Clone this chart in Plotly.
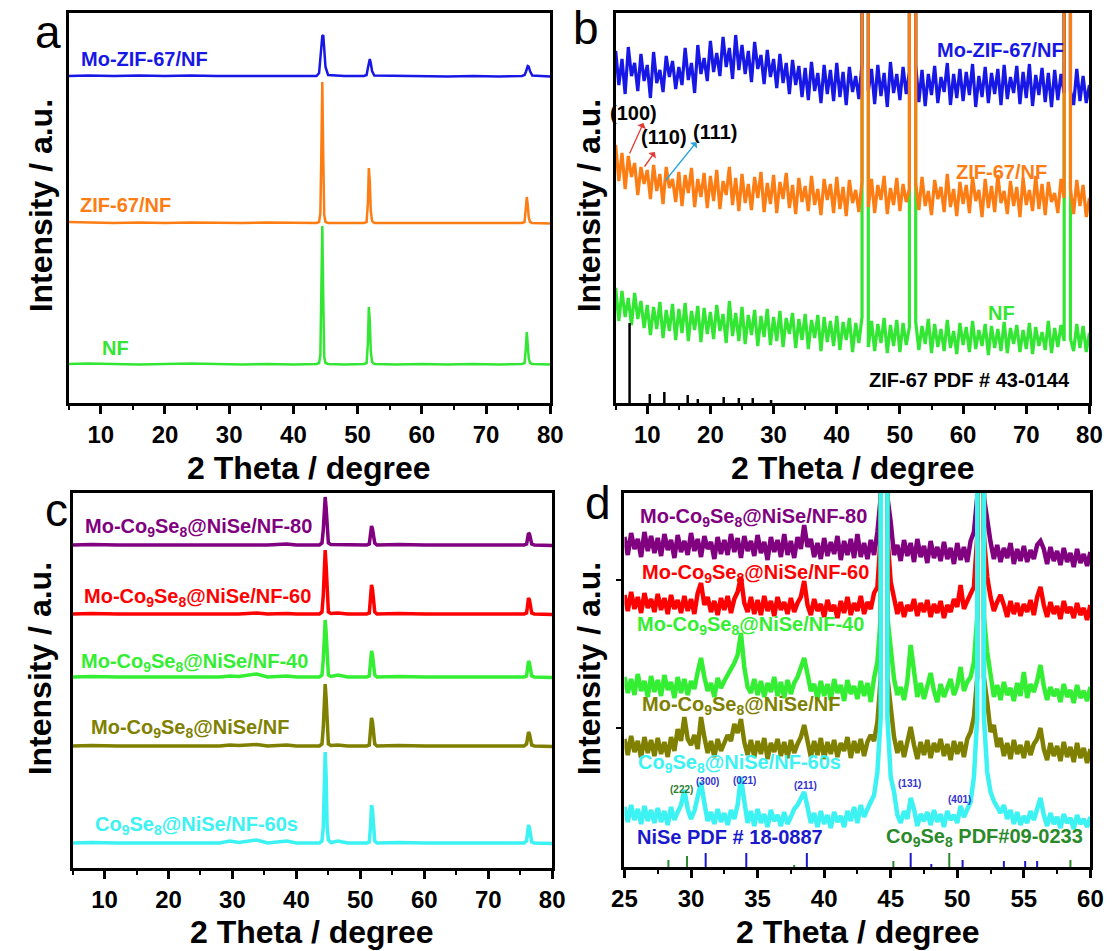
import numpy as np
import plotly.graph_objects as go

FONT = "Liberation Sans"

# ---------------- panel a : full XRD patterns ----------------
two_theta_a = [5, 8, 12, 16, 20, 24, 28, 32, 36, 40, 43.6, 44.0, 44.2, 44.35, 44.5, 44.65,
               44.8, 45.0, 45.4, 48, 51.0, 51.4, 51.6, 51.75, 51.9, 52.05, 52.25, 52.6, 56, 60,
               64, 68, 72, 75.6, 76.0, 76.2, 76.35, 76.5, 76.65, 76.85, 77.2, 80]
a_nf = [39, 39.5, 39, 38.5, 39, 39.5, 39, 38.5, 39, 38.5, 39, 40, 48, 110, 177, 105,
        46, 40, 39, 38.5, 39, 40, 60, 96, 82, 52, 41, 39, 38.5, 39,
        38.5, 39, 38.5, 39, 40, 55, 71, 58, 45, 40, 39, 38.5]
a_zif = [181, 180.5, 180, 180.5, 180, 180.5, 180, 180, 180.5, 180, 180, 181, 190, 250, 321, 245,
         188, 181, 180, 180, 180, 181, 200, 235, 222, 192, 182, 180, 180, 180.5,
         180, 180, 180, 180, 181, 195, 206, 198, 186, 181, 180, 179.5]
a_mozif = [327, 327.5, 327, 327.5, 327, 327.5, 327, 327, 327.5, 327, 327, 330, 342, 358, 367, 368,
           356, 336, 328, 327, 327, 328, 335, 342, 344, 340, 332, 327.5, 327, 327,
           326.5, 327, 326.5, 327, 328, 331, 335, 337, 336.5, 332, 327.5, 326.5]

# ---------------- panel b : magnified view (0.5 degree steps) ----------------
two_theta_b = np.linspace(5, 80, 151)
b_mozif = [352, 318, 344, 309, 356, 327, 340, 312, 349, 322,
           338, 305, 351, 320, 333, 311, 347, 326, 342, 314,
           336, 318, 355, 323, 340, 310, 358, 329, 345, 322,
           362, 331, 350, 327, 366, 336, 355, 324, 368, 333,
           358, 329, 352, 321, 361, 334, 348, 319, 353, 326,
           344, 315, 349, 320, 340, 309, 343, 318, 337, 306,
           335, 303, 341, 312, 330, 300, 338, 309, 333, 302,
           340, 306, 331, 298, 336, 311, 327, 304, 339, 30000,
           312, 334, 299, 338, 307, 330, 296, 341, 310, 329,
           303, 336, 309, 331, 30000, 338, 301, 333, 297, 329,
           308, 337, 300, 326, 311, 340, 298, 329, 305, 334,
           302, 331, 308, 339, 296, 327, 306, 336, 300, 330,
           309, 334, 298, 338, 304, 326, 310, 337, 299, 331,
           305, 339, 297, 328, 308, 335, 301, 330, 296, 333,
           303, 329, 310, 30000, 312, 298, 334, 302, 327, 300,
           318]
b_zif = [258, 222, 250, 214, 247, 226, 240, 208, 236, 219,
         233, 204, 238, 212, 229, 199, 236, 215, 224, 201,
         231, 197, 228, 210, 235, 196, 224, 206, 230, 195,
         227, 202, 233, 194, 222, 208, 236, 198, 225, 192,
         229, 200, 219, 193, 226, 205, 231, 191, 220, 199,
         228, 190, 221, 204, 230, 195, 218, 189, 225, 201,
         217, 192, 227, 198, 214, 188, 224, 203, 219, 190,
         226, 194, 216, 187, 223, 200, 213, 191, 222, 30000,
         196, 224, 190, 218, 203, 227, 189, 215, 198, 225,
         192, 219, 201, 214, 30000, 220, 193, 226, 197, 212,
         188, 223, 204, 216, 191, 229, 196, 214, 187, 221,
         199, 218, 190, 226, 202, 213, 186, 224, 195, 217,
         191, 228, 200, 212, 189, 222, 197, 216, 186, 225,
         198, 213, 192, 227, 194, 219, 188, 221, 201, 210,
         190, 224, 205, 30000, 214, 189, 223, 197, 218, 186,
         205]
b_nf = [115, 82, 112, 86, 105, 78, 110, 84, 102, 75,
        98, 68, 96, 74, 101, 65, 93, 72, 99, 63,
        94, 70, 100, 62, 92, 73, 97, 61, 95, 69,
        91, 64, 98, 72, 89, 60, 102, 67, 90, 62,
        96, 59, 88, 68, 93, 57, 87, 66, 94, 58,
        86, 62, 92, 56, 85, 69, 90, 55, 84, 63,
        89, 54, 83, 65, 88, 52, 86, 61, 82, 57,
        87, 53, 81, 63, 85, 51, 80, 60, 86, 30000,
        56, 82, 52, 79, 60, 85, 50, 78, 57, 83,
        51, 80, 58, 76, 30000, 81, 53, 77, 59, 84,
        50, 79, 56, 74, 52, 83, 55, 72, 49, 80,
        58, 76, 51, 82, 54, 73, 57, 79, 48, 77,
        55, 74, 52, 81, 50, 75, 59, 78, 51, 73,
        54, 80, 49, 76, 57, 71, 53, 82, 50, 75,
        56, 78, 62, 30000, 64, 52, 79, 55, 77, 51,
        70]
zif67_pdf_pos = [7.2, 10.4, 12.7, 16.4, 18.0, 22.1, 24.5, 26.7, 29.6]
zif67_pdf_int = [80, 9, 11, 8, 4, 6, 5, 5, 3]

# ---------------- panel c : selenides, full range ----------------
two_theta_c = [5, 8, 12, 16, 20, 24, 28, 29.6, 31, 33.8, 35.5, 38.5, 40, 43.6, 44.0, 44.2,
               44.35, 44.5, 44.65, 44.8, 45.0, 45.4, 46.5, 48, 51.0, 51.4, 51.6, 51.75, 51.9,
               52.05, 52.25, 52.6, 56, 60, 64, 68, 72, 75.6, 76.0, 76.15, 76.3, 76.45, 76.6,
               76.8, 77.2, 80]
c_60s = [25, 25.5, 25, 25, 25.5, 25, 25, 27, 25.5, 28, 25, 27, 25, 25, 27, 40,
         90, 116, 92, 42, 28, 25.5, 27, 25, 25, 26, 42, 63, 58,
         38, 27, 25, 25.5, 25, 25, 25, 25, 25, 27, 37, 43, 40, 31,
         26, 25, 24.5]
c_mo = [122, 122.5, 122, 122, 122.5, 122, 122, 123, 122.5, 123.5, 122, 123, 122, 122, 124, 140,
        172, 184, 170, 138, 124, 122.5, 123, 122, 122, 123, 138, 150, 146,
        132, 124, 122, 122.5, 122, 122, 122, 122, 122, 124, 132, 136, 134, 127,
        123, 122, 121.5]
c_40 = [191, 191.5, 191, 191, 191.5, 191, 191, 192, 191.5, 194, 191, 192, 191, 191, 193, 208,
        237, 248, 236, 206, 193, 191.5, 193, 191, 191, 192, 206, 217, 213,
        201, 193, 191, 191.5, 191, 191, 191, 191, 191, 192, 201, 207, 205, 197,
        192, 191, 190.5]
c_60 = [254, 254.5, 254, 254, 254.5, 254, 254, 254.5, 254, 255, 254, 254.5, 254, 254, 256, 272,
        305, 318, 303, 270, 256, 254.5, 255, 254, 254, 255, 272, 283, 279,
        265, 256, 254, 254.5, 254, 254, 254, 254, 254, 255, 265, 270, 268, 261,
        255, 254, 253.5]
c_80 = [323, 323.5, 323, 323, 323.5, 323, 323, 323.5, 323, 323.5, 323, 324, 323, 323, 325, 338,
        362, 371, 360, 337, 325, 323.5, 323.5, 323, 323, 324, 334, 342, 339,
        331, 325, 323, 323.5, 323, 323, 323, 323, 323, 324, 331, 335, 334, 329,
        324, 323, 322.5]

# ---------------- panel d : selenides, 25-60 degree (0.25 degree steps) ----------------
two_theta_d = np.linspace(25, 60, 141)
d_80 = [330, 312, 334, 318, 328, 310, 335, 316, 331, 314,
        329, 311, 333, 317, 327, 309, 332, 315, 326, 312,
        334, 316, 328, 310, 331, 318, 325, 308, 330, 313,
        327, 312, 333, 315, 329, 309, 331, 316, 326, 311,
        332, 314, 325, 307, 330, 315, 327, 310, 333, 312,
        326, 309, 330, 318, 342, 320, 328, 310, 324, 308,
        329, 311, 325, 313, 331, 307, 326, 312, 328, 309,
        333, 310, 324, 308, 327, 312, 335, 370, 30000, 370,
        345, 312, 322, 306, 327, 311, 324, 305, 328, 310,
        321, 304, 326, 309, 320, 306, 325, 308, 319, 303,
        324, 307, 320, 305, 326, 335, 370, 30000, 370, 345,
        325, 308, 322, 305, 319, 309, 324, 303, 318, 306,
        321, 305, 317, 308, 322, 326, 318, 303, 320, 306,
        316, 302, 319, 305, 314, 300, 318, 304, 313, 301,
        315]
d_60 = [272, 256, 275, 258, 270, 254, 274, 259, 268, 255,
        273, 257, 269, 253, 272, 258, 267, 254, 271, 256,
        268, 253, 274, 284, 262, 270, 255, 266, 252, 269,
        257, 271, 254, 268, 275, 290, 264, 255, 270, 253,
        267, 252, 271, 256, 266, 251, 270, 257, 265, 253,
        269, 255, 264, 270, 286, 262, 252, 268, 256, 263,
        250, 267, 256, 262, 249, 266, 254, 270, 252, 264,
        256, 271, 253, 265, 258, 274, 280, 330, 30000, 330,
        285, 268, 253, 265, 250, 262, 256, 268, 251, 264,
        255, 267, 250, 263, 254, 266, 249, 262, 255, 268,
        260, 282, 258, 266, 272, 280, 330, 30000, 330, 290,
        270, 256, 265, 272, 262, 250, 266, 253, 264, 251,
        263, 255, 267, 252, 270, 280, 262, 250, 265, 253,
        261, 248, 266, 254, 260, 249, 264, 252, 259, 247,
        262]
d_40 = [190, 174, 188, 172, 193, 176, 186, 170, 191, 175,
        187, 171, 192, 177, 185, 169, 190, 174, 188, 172,
        186, 178, 195, 209, 190, 176, 184, 170, 189, 179,
        186, 192, 196, 204, 212, 234, 200, 180, 174, 188,
        172, 186, 170, 184, 175, 190, 171, 185, 169, 187,
        173, 184, 190, 200, 209, 193, 176, 183, 168, 186,
        171, 183, 167, 188, 174, 182, 166, 187, 173, 181,
        168, 186, 171, 184, 165, 189, 205, 250, 30000, 250,
        215, 188, 172, 180, 167, 186, 222, 195, 170, 184,
        168, 181, 194, 176, 165, 183, 170, 179, 188, 172,
        181, 200, 176, 185, 190, 205, 250, 30000, 250, 215,
        188, 170, 182, 167, 185, 172, 179, 166, 184, 171,
        195, 169, 183, 175, 186, 202, 181, 167, 180, 171,
        178, 165, 183, 170, 177, 164, 182, 169, 176, 166,
        180]
d_mo = [128, 112, 131, 115, 126, 109, 130, 114, 127, 111,
        129, 113, 125, 110, 130, 116, 138, 126, 150, 128,
        122, 132, 118, 150, 130, 114, 126, 110, 128, 116,
        124, 132, 126, 143, 134, 148, 125, 112, 127, 110,
        126, 113, 129, 108, 124, 115, 128, 111, 125, 109,
        127, 114, 123, 130, 142, 124, 110, 126, 112, 129,
        108, 125, 113, 127, 110, 124, 116, 130, 109, 126,
        114, 128, 111, 125, 132, 126, 145, 190, 30000, 190,
        160, 130, 114, 126, 110, 124, 140, 122, 108, 125,
        112, 127, 109, 124, 115, 128, 111, 123, 107, 126,
        113, 125, 110, 128, 135, 150, 190, 30000, 190, 165,
        135, 142, 120, 129, 111, 124, 108, 127, 113, 122,
        109, 126, 112, 123, 128, 139, 118, 107, 124, 111,
        121, 106, 125, 110, 120, 105, 124, 109, 119, 104,
        118]
d_60s = [60, 45, 62, 47, 58, 43, 61, 46, 57, 44,
         59, 45, 56, 42, 60, 47, 55, 62, 77, 58,
         48, 56, 70, 85, 64, 46, 55, 43, 58, 45,
         54, 42, 57, 48, 62, 90, 66, 44, 56, 41,
         58, 44, 53, 40, 57, 46, 52, 41, 55, 43,
         50, 58, 62, 68, 75, 60, 44, 54, 40, 56,
         43, 52, 39, 55, 45, 51, 40, 56, 46, 60,
         44, 62, 50, 58, 66, 72, 95, 150, 30000, 150,
         90, 75, 52, 44, 56, 48, 69, 58, 41, 53,
         46, 55, 42, 57, 45, 53, 40, 56, 47, 52,
         44, 61, 50, 57, 65, 90, 150, 30000, 150, 95,
         75, 66, 60, 54, 62, 48, 57, 43, 55, 42,
         51, 44, 56, 47, 58, 69, 52, 41, 54, 43,
         50, 39, 53, 44, 49, 38, 52, 43, 48, 40,
         50]
co9se8_pdf_pos = [28.3, 29.7, 37.75, 45.2, 49.4, 58.5]
co9se8_pdf_int = [7, 11, 2, 6, 14, 7]
nise_pdf_pos = [31.1, 34.15, 38.7, 46.5, 48.05, 50.4, 53.5, 55.1, 56.0]
nise_pdf_int = [14, 14, 14, 14, 3, 7, 6, 6, 6]
hkl_labels = ["(222)", "(300)", "(021)", "(211)", "(131)", "(401)"]
hkl_pos = [29.25, 31.25, 34.0, 38.6, 46.4, 50.2]
hkl_height = [78, 86, 87, 82, 84, 68]
hkl_colors = ["#2e7d32", "#3333cc", "#3333cc", "#3333cc", "#3333cc", "#3333cc"]

BLUE, ORANGE, LIME = "#1717e6", "#fb7d14", "#33e633"
PURPLE, RED, GREEN40, OLIVE, CYAN = "#800080", "#ff0000", "#33ee33", "#808000", "#3cf2f2"
PDF_GREEN, PDF_BLUE = "#2a8a2a", "#1a1acc"

fig = go.Figure()


def line(x, y, color, width, ax):
    fig.add_trace(go.Scatter(x=x, y=y, mode="lines", line=dict(color=color, width=width),
                             xaxis="x" + ax, yaxis="y" + ax, showlegend=False, hoverinfo="skip"))


def sticks(pos, height, color, width, ax):
    xs, ys = [], []
    for p, h in zip(pos, height):
        xs += [p, p, None]
        ys += [0, h, None]
    line(xs, ys, color, width, ax)


# panel a
line(two_theta_a, a_nf, LIME, 2.5, "")
line(two_theta_a, a_zif, ORANGE, 2.5, "")
line(two_theta_a, a_mozif, BLUE, 2.5, "")
# panel b
line(two_theta_b, b_nf, LIME, 3.2, "2")
line(two_theta_b, b_mozif, BLUE, 3.2, "2")
line(two_theta_b, b_zif, ORANGE, 3.2, "2")
sticks(zif67_pdf_pos, zif67_pdf_int, "black", 2.5, "2")
# panel c
line(two_theta_c, c_80, PURPLE, 3.5, "3")
line(two_theta_c, c_60, RED, 3.5, "3")
line(two_theta_c, c_40, GREEN40, 3.5, "3")
line(two_theta_c, c_mo, OLIVE, 3.5, "3")
line(two_theta_c, c_60s, CYAN, 3.5, "3")
# panel d
line(two_theta_d, d_80, PURPLE, 4.5, "4")
line(two_theta_d, d_60, RED, 4.5, "4")
line(two_theta_d, d_40, GREEN40, 4.5, "4")
line(two_theta_d, d_mo, OLIVE, 4.5, "4")
line(two_theta_d, d_60s, CYAN, 4.5, "4")
sticks(co9se8_pdf_pos, co9se8_pdf_int, PDF_GREEN, 2, "4")
sticks(nise_pdf_pos, nise_pdf_int, PDF_BLUE, 2, "4")

W, H = 1120, 951


def xdom(l, r):
    return [l / W, r / W]


def ydom(t, b):
    return [1 - b / H, 1 - t / H]


def xax(domain, rng, dtick, minor, anchor):
    return dict(domain=domain, range=rng, anchor=anchor, showline=True, mirror=True,
                linecolor="black", linewidth=3, ticks="outside", ticklen=8, tickwidth=2.5,
                tickcolor="black", tick0=0, dtick=dtick,
                minor=dict(dtick=minor, ticks="outside", ticklen=4, tickwidth=2, tickcolor="black"),
                showgrid=False, zeroline=False,
                tickfont=dict(family=FONT, size=24, color="black", weight="bold"))


def yax(domain, rng, anchor, tickvals=None):
    d = dict(domain=domain, range=rng, anchor=anchor, showline=True, mirror=True,
             linecolor="black", linewidth=3, showticklabels=False, showgrid=False,
             zeroline=False, ticks="")
    if tickvals:
        d.update(ticks="outside", tickvals=tickvals, ticklen=5, tickwidth=2, tickcolor="black")
    return d


fig.update_layout(
    width=W, height=H, margin=dict(l=0, r=0, t=0, b=0),
    paper_bgcolor="white", plot_bgcolor="white",
    xaxis=xax(xdom(57, 550), [5, 80], 10, 5, "y"),
    yaxis=yax(ydom(13, 403), [0, 390], "x"),
    xaxis2=xax(xdom(617, 1102), [5, 80], 10, 5, "y2"),
    yaxis2=yax(ydom(13, 403), [0, 390], "x2"),
    xaxis3=xax(xdom(61, 552), [5, 80], 10, 5, "y3"),
    yaxis3=yax(ydom(493, 868), [0, 375], "x3"),
    xaxis4=xax(xdom(626, 1103), [25, 60], 5, 2.5, "y4"),
    yaxis4=yax(ydom(493, 867), [0, 374], "x4", tickvals=[139, 287]),
)

ann = []


def text(x, y, s, color, size, ax, anchor="left", bold=True):
    ann.append(dict(x=x, y=y, xref="x" + ax, yref="y" + ax, text=s, showarrow=False,
                    xanchor=anchor, yanchor="middle",
                    font=dict(family=FONT, size=size, color=color,
                              weight="bold" if bold else "normal")))


def paper_text(px, py, s, size, angle=0, bold=True):
    ann.append(dict(x=px / W, y=1 - py / H, xref="paper", yref="paper", text=s,
                    showarrow=False, xanchor="center", yanchor="middle", textangle=angle,
                    font=dict(family=FONT, size=size, color="black",
                              weight="bold" if bold else "normal")))


CO = "Co<sub>9</sub>Se<sub>8</sub>"

# panel a labels
text(6.6, 344, "Mo-ZIF-67/NF", BLUE, 20, "")
text(6.4, 198, "ZIF-67/NF", ORANGE, 20, "")
text(9.9, 55, "NF", LIME, 20, "")
# panel b labels
text(55.6, 353, "Mo-ZIF-67/NF", BLUE, 20, "2")
text(58.6, 231, "ZIF-67/NF", ORANGE, 20, "2")
text(63.6, 90, "NF", LIME, 20, "2")
text(44.8, 23, "ZIF-67 PDF # 43-0144", "black", 20, "2")
text(7.76, 290, "(100)", "black", 20, "2", anchor="center")
text(12.7, 266, "(110)", "black", 20, "2", anchor="center")
text(20.8, 271, "(111)", "black", 20, "2", anchor="center")
for (x0, y0, x1, y1, col) in [(7.1, 248, 9.4, 280, "#e53935"),
                              (9.4, 235, 11.2, 251, "#e53935"),
                              (12.7, 221, 17.8, 261, "#2aa6dc")]:
    ann.append(dict(x=x1, y=y1, ax=x0, ay=y0, xref="x2", yref="y2", axref="x2", ayref="y2",
                    text="", showarrow=True, arrowhead=1, arrowsize=1.2, arrowwidth=1.3,
                    arrowcolor=col))
# panel c labels
text(6.6, 341, "Mo-" + CO + "@NiSe/NF-80", PURPLE, 20, "3")
text(6.4, 271, "Mo-" + CO + "@NiSe/NF-60", RED, 20, "3")
text(6.0, 206, "Mo-" + CO + "@NiSe/NF-40", GREEN40, 20, "3")
text(7.5, 140, "Mo-" + CO + "@NiSe/NF", OLIVE, 20, "3")
text(8.2, 43, CO + "@NiSe/NF-60s", CYAN, 20, "3")
# panel d labels
text(26.05, 350, "Mo-" + CO + "@NiSe/NF-80", PURPLE, 20, "4")
text(26.2, 294, "Mo-" + CO + "@NiSe/NF-60", RED, 20, "4")
text(25.8, 242, "Mo-" + CO + "@NiSe/NF-40", GREEN40, 20, "4")
text(26.2, 162, "Mo-" + CO + "@NiSe/NF", OLIVE, 20, "4")
text(25.9, 104, CO + "@NiSe/NF-60s", CYAN, 20, "4")
text(25.8, 30, "NiSe PDF # 18-0887", PDF_BLUE, 20, "4")
text(59.6, 30, CO + " PDF#09-0233", PDF_GREEN, 20, "4", anchor="right")
for lab, xp, yp, col in zip(hkl_labels, hkl_pos, hkl_height, hkl_colors):
    text(xp, yp, lab, col, 10, "4", anchor="center")

# axis titles and panel letters
for cx, cy in [(303, 468), (860, 468), (306, 932), (865, 932)]:
    paper_text(cx, cy, "2 Theta / degree", 32)
for cx, cy in [(29, 206), (590, 206), (28, 669), (590, 669)]:
    paper_text(cx, cy, "Intensity / a.u.", 32, angle=-90)
for cx, cy, s in [(36, 32, "a"), (587, 28, "b"), (45, 510, "c"), (599, 503, "d")]:
    paper_text(cx, cy, s, 46, bold=False)

fig.update_layout(annotations=ann)
fig.write_html("out.html")
